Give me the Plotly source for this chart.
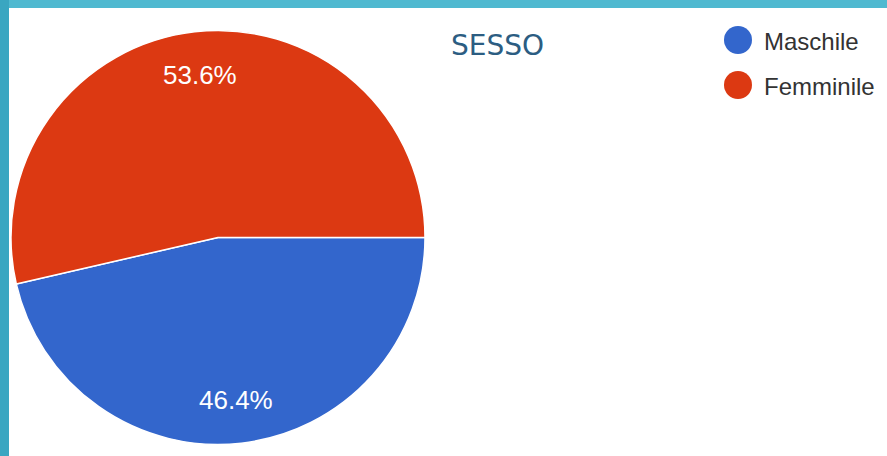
import math
import plotly.graph_objects as go

W, H = 887, 456

# Data
labels = ["Maschile", "Femminile"]
values = [46.4, 53.6]
colors = ["#3366cc", "#dc3912"]
title_text = "SESSO"

# Pie geometry in pixels
cx, cy, R = 218, 237.5, 207


def px_x(x):
    return x / W


def px_y(y):
    return 1 - y / H


fig = go.Figure()
fig.add_trace(go.Pie(
    labels=labels,
    values=values,
    sort=False,
    direction="clockwise",
    rotation=90,
    marker=dict(colors=colors, line=dict(color="white", width=1.5)),
    textinfo="none",
    hoverinfo="label+percent",
    showlegend=False,
    domain=dict(x=[px_x(cx - R), px_x(cx + R)], y=[px_y(cy + R), px_y(cy - R)]),
))

annotations = []
shapes = []

# Percent labels placed along each slice bisector
total = sum(values)
cum = 0.0
for v in values:
    mid = (cum + v / 2) / total
    cum += v
    ang = math.radians(-mid * 360)  # clockwise from 3 o'clock
    r = 0.79 * R
    x = cx + r * math.cos(ang)
    y = cy - r * math.sin(ang)
    annotations.append(dict(
        x=px_x(x), y=px_y(y), xref="paper", yref="paper",
        text=f"{v / total * 100:.1f}%", showarrow=False,
        font=dict(family="Liberation Sans, Arial", size=26, color="white"),
        xanchor="center", yanchor="middle",
    ))

# Legend with round markers
leg_x, leg_y0, leg_dy, dot_r = 738, 40, 45, 14
for i, (lab, col) in enumerate(zip(labels, colors)):
    yy = leg_y0 + i * leg_dy
    shapes.append(dict(
        type="circle", xref="paper", yref="paper",
        x0=px_x(leg_x - dot_r), x1=px_x(leg_x + dot_r),
        y0=px_y(yy + dot_r), y1=px_y(yy - dot_r),
        fillcolor=col, line=dict(width=0),
    ))
    annotations.append(dict(
        x=px_x(leg_x + dot_r + 10), y=px_y(yy + 1), xref="paper", yref="paper",
        text=lab, showarrow=False, xanchor="left", yanchor="middle",
        font=dict(family="Liberation Sans, Arial", size=24, color="#333333"),
    ))

# Title
annotations.append(dict(
    x=px_x(497), y=px_y(45), xref="paper", yref="paper",
    text=title_text, showarrow=False, xanchor="center", yanchor="middle",
    font=dict(family="DejaVu Sans", size=28, color="#2c5d82"),
))

# Teal frame along top and left edges
shapes.append(dict(type="rect", xref="paper", yref="paper", layer="above",
                   x0=0, x1=1, y0=px_y(8), y1=1,
                   fillcolor="#4fb9d0", line=dict(width=0)))
shapes.append(dict(type="rect", xref="paper", yref="paper", layer="above",
                   x0=0, x1=px_x(9), y0=0, y1=1,
                   fillcolor="#3aa6c1", line=dict(width=0)))

fig.update_layout(
    width=W, height=H,
    margin=dict(l=0, r=0, t=0, b=0),
    paper_bgcolor="white",
    plot_bgcolor="white",
    annotations=annotations,
    shapes=shapes,
)

fig.write_html("out.html")
